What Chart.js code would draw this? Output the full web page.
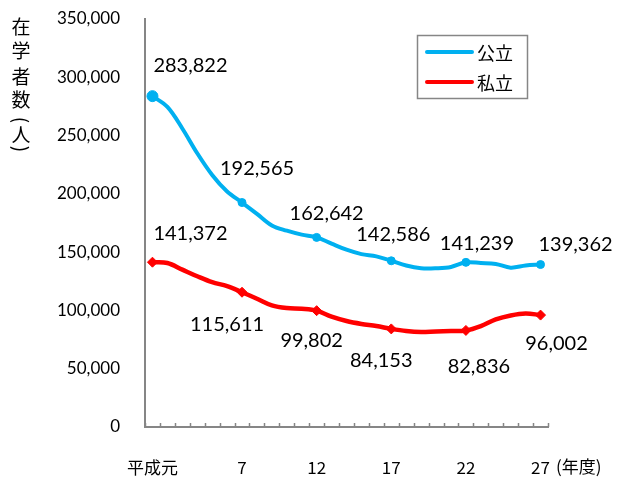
<!DOCTYPE html>
<html>
<head>
<meta charset="utf-8">
<script src="https://cdn.jsdelivr.net/npm/chart.js@4/dist/chart.umd.min.js"></script>
<style>
  html, body { margin: 0; padding: 0; background: #fff; }
  #wrap { width: 617px; height: 477px; }
</style>
</head>
<body>
<div id="wrap"><canvas id="chart" width="617" height="477"></canvas></div>
<script>
// 平成元〜27年度
const categories = ['平成元', '2', '3', '4', '5', '6', '7', '8', '9', '10', '11', '12', '13', '14',
    '15', '16', '17', '18', '19', '20', '21', '22', '23', '24', '25', '26', '27'];
const shownTicks = ['平成元', '7', '12', '17', '22', '27'];

const publicValues = [283822, 274600, 256100, 234800, 216200, 202000, 192565, 182900, 172900, 168400,
    165000, 162642, 157300, 152100, 148300, 146400, 142586, 138500, 136200, 136200,
    137300, 141239, 140700, 139900, 136700, 138500, 139362];
const privateValues = [141372, 140700, 135000, 129300, 124200, 120800, 115611, 110000, 104300, 102000,
    101400, 99802, 94600, 90900, 88400, 86600, 84153, 82300, 81500, 82000,
    82300, 82836, 86600, 92300, 95700, 97400, 96002];

// points that carry a marker and a value label
const labeledIdx = [0, 6, 11, 16, 21, 26];

const yTitle = ['在', '学', '者', '数', '(', '人', ')'];

const BLUE = '#00b0f0';
const RED = '#ff0000';
const AXIS = '#868686';
const NUM_FONT = 'Lato, "Open Sans", sans-serif';
const JP_FONT = '"Noto Sans CJK JP", sans-serif';

const fmt = v => v.toLocaleString('en-US');

const pubRadius = categories.map((c, i) => (i === 0 ? 5.5 : labeledIdx.includes(i) ? 4 : 0));
const privRadius = categories.map((c, i) => (labeledIdx.includes(i) ? 5 : 0));

// label offsets from the point (style only)
const pubOffsets = [[38, -31], [15, -34], [10, -24], [2, -26], [11, -19], [35, -20]];
const privOffsets = [[38, -29], [-15, 32], [-5, 30], [-10, 32], [13, 36], [16, 28]];

const extras = {
    id: 'extras',
    beforeDatasetsDraw(chart) {
        const { ctx, chartArea: a, scales: { x } } = chart;
        ctx.save();
        ctx.strokeStyle = AXIS;
        ctx.lineWidth = 1.5;
        const step = x.getPixelForValue(1) - x.getPixelForValue(0);
        for (let k = 0; k <= categories.length; k++) {
            const px = Math.round(x.getPixelForValue(0) - step / 2 + k * step) + 0.5;
            ctx.beginPath();
            ctx.moveTo(px, a.bottom);
            ctx.lineTo(px, a.bottom - 4);
            ctx.stroke();
        }
        ctx.restore();
    },
    afterDatasetsDraw(chart) {
        const { ctx, scales: { x, y } } = chart;
        ctx.save();
        // value labels
        ctx.font = '20px ' + NUM_FONT;
        ctx.fillStyle = '#000';
        ctx.textAlign = 'center';
        ctx.textBaseline = 'middle';
        labeledIdx.forEach((i, n) => {
            const px = x.getPixelForValue(i);
            ctx.fillText(fmt(publicValues[i]), px + pubOffsets[n][0], y.getPixelForValue(publicValues[i]) + pubOffsets[n][1]);
            ctx.fillText(fmt(privateValues[i]), px + privOffsets[n][0], y.getPixelForValue(privateValues[i]) + privOffsets[n][1]);
        });

        // y-axis title, stacked vertically (brackets turned sideways)
        ctx.font = '19px ' + JP_FONT;
        const ys = [27, 51, 77, 100, 120, 135, 149];
        yTitle.forEach((ch, n) => {
            if (ch === '(' || ch === ')') {
                ctx.save();
                ctx.translate(21, ys[n]);
                ctx.rotate(Math.PI / 2);
                ctx.fillText(ch, 0, 0);
                ctx.restore();
            } else {
                ctx.fillText(ch, 21, ys[n]);
            }
        });

        // (年度)
        ctx.font = '17px ' + JP_FONT;
        ctx.textAlign = 'left';
        ctx.fillText('(年度)', 556, 467);

        // legend
        ctx.strokeStyle = AXIS;
        ctx.lineWidth = 1.5;
        ctx.strokeRect(417.5, 35.5, 110, 63);
        ctx.lineCap = 'round';
        ctx.lineWidth = 4;
        [[BLUE, '公立', 52], [RED, '私立', 82]].forEach(([col, txt, ly]) => {
            ctx.strokeStyle = col;
            ctx.beginPath();
            ctx.moveTo(427, ly);
            ctx.lineTo(472, ly);
            ctx.stroke();
            ctx.font = '18px ' + JP_FONT;
            ctx.fillStyle = '#000';
            ctx.fillText(txt, 477, ly + 1);
        });
        ctx.restore();
    }
};

new Chart(document.getElementById('chart').getContext('2d'), {
    type: 'line',
    data: {
        labels: categories,
        datasets: [{
            label: '公立',
            data: publicValues,
            borderColor: BLUE,
            backgroundColor: BLUE,
            borderWidth: 4,
            pointRadius: pubRadius,
            pointBorderWidth: 1,
            tension: 0.35,
        }, {
            label: '私立',
            data: privateValues,
            borderColor: RED,
            backgroundColor: RED,
            borderWidth: 4.5,
            pointStyle: 'rectRot',
            pointRadius: privRadius,
            pointBorderWidth: 1,
            tension: 0.35,
        }],
    },
    options: {
        responsive: false,
        animation: false,
        events: [],
        layout: { padding: { top: 19, right: 69, left: 0, bottom: 0 } },
        plugins: { legend: { display: false }, tooltip: { enabled: false } },
        scales: {
            x: {
                offset: true,
                grid: { display: false, drawTicks: false },
                border: { color: AXIS, width: 2 },
                ticks: {
                    autoSkip: false,
                    maxRotation: 0,
                    padding: 30,
                    color: '#000',
                    font: { family: JP_FONT, size: 17 },
                    callback: function (v) {
                        const l = categories[v];
                        return shownTicks.includes(l) ? l : '';
                    },
                },
                afterFit: s => { s.height = 50; s.paddingLeft = 0; s.paddingRight = 0; },
            },
            y: {
                min: 0,
                max: 350000,
                grid: { display: false, drawTicks: false },
                border: { color: AXIS, width: 2 },
                ticks: {
                    stepSize: 50000,
                    padding: 25,
                    color: '#000',
                    font: { family: NUM_FONT, size: 17 },
                    callback: v => fmt(v),
                },
                afterFit: s => { s.width = 145; s.paddingTop = 0; s.paddingBottom = 0; },
            },
        },
    },
    plugins: [extras],
});
</script>
</body>
</html>
